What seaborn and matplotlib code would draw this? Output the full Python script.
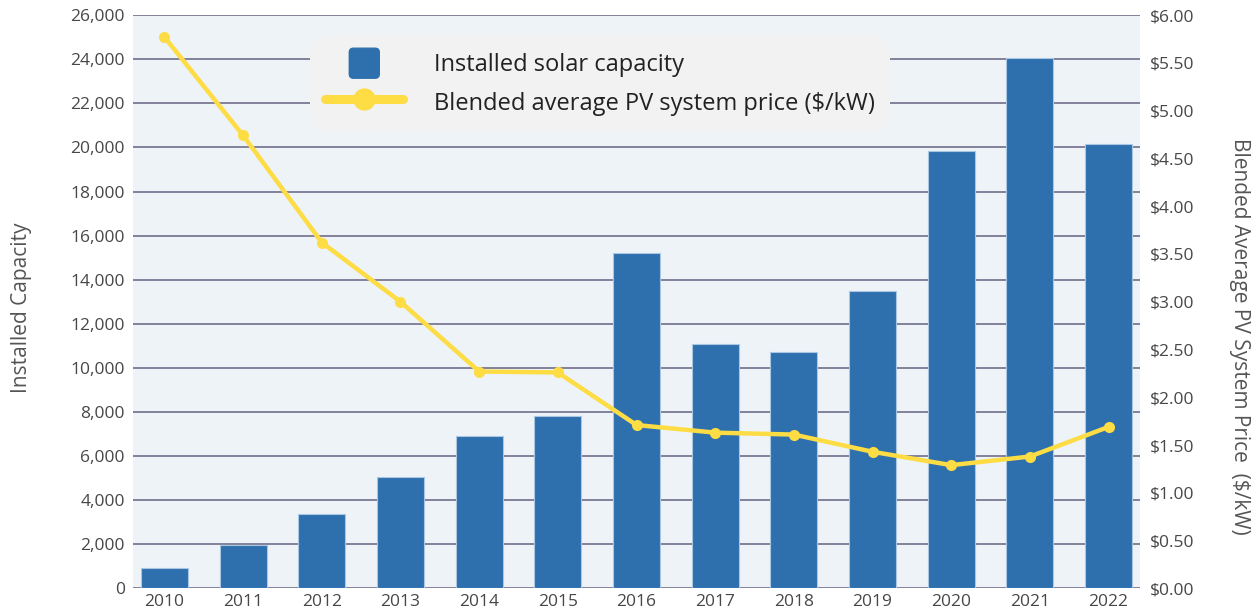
import matplotlib
matplotlib.use("Agg")
import matplotlib.pyplot as plt
from matplotlib.lines import Line2D
from matplotlib.patches import Patch, FancyBboxPatch
from matplotlib.legend_handler import HandlerPatch
from matplotlib.ticker import FuncFormatter
import numpy as np
import pandas as pd
import seaborn as sns

# values
years = ["2010", "2011", "2012", "2013", "2014", "2015", "2016",
         "2017", "2018", "2019", "2020", "2021", "2022"]
capacity = [925, 1950, 3375, 5050, 6900, 7800, 15200,
            11100, 10700, 13500, 19850, 24050, 20150]
price = [5.77, 4.74, 3.62, 3.00, 2.27, 2.26, 1.71,
         1.63, 1.61, 1.43, 1.29, 1.38, 1.69]

bar_color = "#2E70AE"
line_color = "#FDDC44"
grid_color = "#7B7894"
text_color = "#474747"


def square_handle(legend, orig_handle, xdescent, ydescent, width, height, fontsize):
    # small rounded square instead of the default wide rectangle
    side = 30 * 72 / 100
    x0 = -xdescent + (width - side) / 2
    y0 = -ydescent + (height - side) / 2
    return FancyBboxPatch((x0, y0), side, side, boxstyle="round,pad=0,rounding_size=3")


sns.set_theme(style="white")
plt.rcParams["font.family"] = ["Open Sans", "DejaVu Sans"]

df = pd.DataFrame({"year": years, "capacity": capacity, "price": price, "pos": np.arange(len(years))})

fig = plt.figure(figsize=(12.55, 6.14), dpi=100)
ax = fig.add_axes([133 / 1255, 1 - 588.4 / 614, 1007 / 1255, 573.3 / 614])
ax.set_facecolor("#EEF3F7")

sns.barplot(data=df, x="year", y="capacity", color=bar_color, saturation=1,
            width=0.6, edgecolor="#A9C6E2", linewidth=0.8, ax=ax, zorder=2)

ax.set_xlim(-0.4, len(years) - 0.6)
ax.set_ylim(0, 26000)
ax.set_yticks(np.arange(0, 26001, 2000))
ax.yaxis.set_major_formatter(FuncFormatter(lambda v, p: f"{int(v):,}"))
ax.set_axisbelow(True)
ax.grid(axis="y", color=grid_color, linewidth=1.3)
ax.grid(axis="x", visible=False)
for s in ax.spines.values():
    s.set_visible(False)
ax.tick_params(axis="both", length=0, labelsize=12.5, labelcolor=text_color)
ax.tick_params(axis="y", pad=6)
ax.tick_params(axis="x", pad=4)
ax.set_xlabel("")
ax.set_ylabel("Installed Capacity", fontsize=15, color="#555555")
ax.yaxis.set_label_coords(-0.1, 0.49)

ax2 = ax.twinx()
sns.lineplot(data=df, x="pos", y="price", color=line_color, linewidth=3.2,
             marker="o", markersize=8, markeredgewidth=0, ax=ax2, zorder=3)
ax2.set_xlim(-0.4, len(years) - 0.6)
ax2.set_ylim(0, 6)
ax2.set_yticks(np.arange(0, 6.01, 0.5))
ax2.yaxis.set_major_formatter(FuncFormatter(lambda v, p: f"${v:.2f}"))
ax2.grid(False)
for s in ax2.spines.values():
    s.set_visible(False)
ax2.tick_params(axis="y", length=0, labelsize=12.5, labelcolor=text_color, pad=7)
ax2.set_xlabel("")
ax2.set_ylabel("Blended Average PV System Price  ($/kW)", fontsize=15,
               color="#555555", rotation=270, va="center")
ax2.yaxis.set_label_coords(1.099, 0.44)

handles = [
    Patch(facecolor=bar_color, edgecolor=bar_color),
    Line2D([0], [0], color=line_color, linewidth=6.5, marker="o", markersize=15),
]
labels = ["Installed solar capacity", "Blended average PV system price ($/kW)"]
leg = fig.legend(handles, labels, loc="upper left",
                 bbox_to_anchor=(310 / 1255, 1 - 35 / 614), borderaxespad=0,
                 fontsize=17, frameon=True, fancybox=True, facecolor="#F2F2F2",
                 edgecolor="none", framealpha=1, handlelength=3.3,
                 handleheight=1.3, handletextpad=1.3, labelspacing=0.5,
                 borderpad=0.65,
                 handler_map={Patch: HandlerPatch(patch_func=square_handle)})
leg.get_frame().set_boxstyle("round", pad=0, rounding_size=0.9)
for t in leg.get_texts():
    t.set_color("#222222")

fig.savefig("out.png", dpi=100, facecolor="white")
